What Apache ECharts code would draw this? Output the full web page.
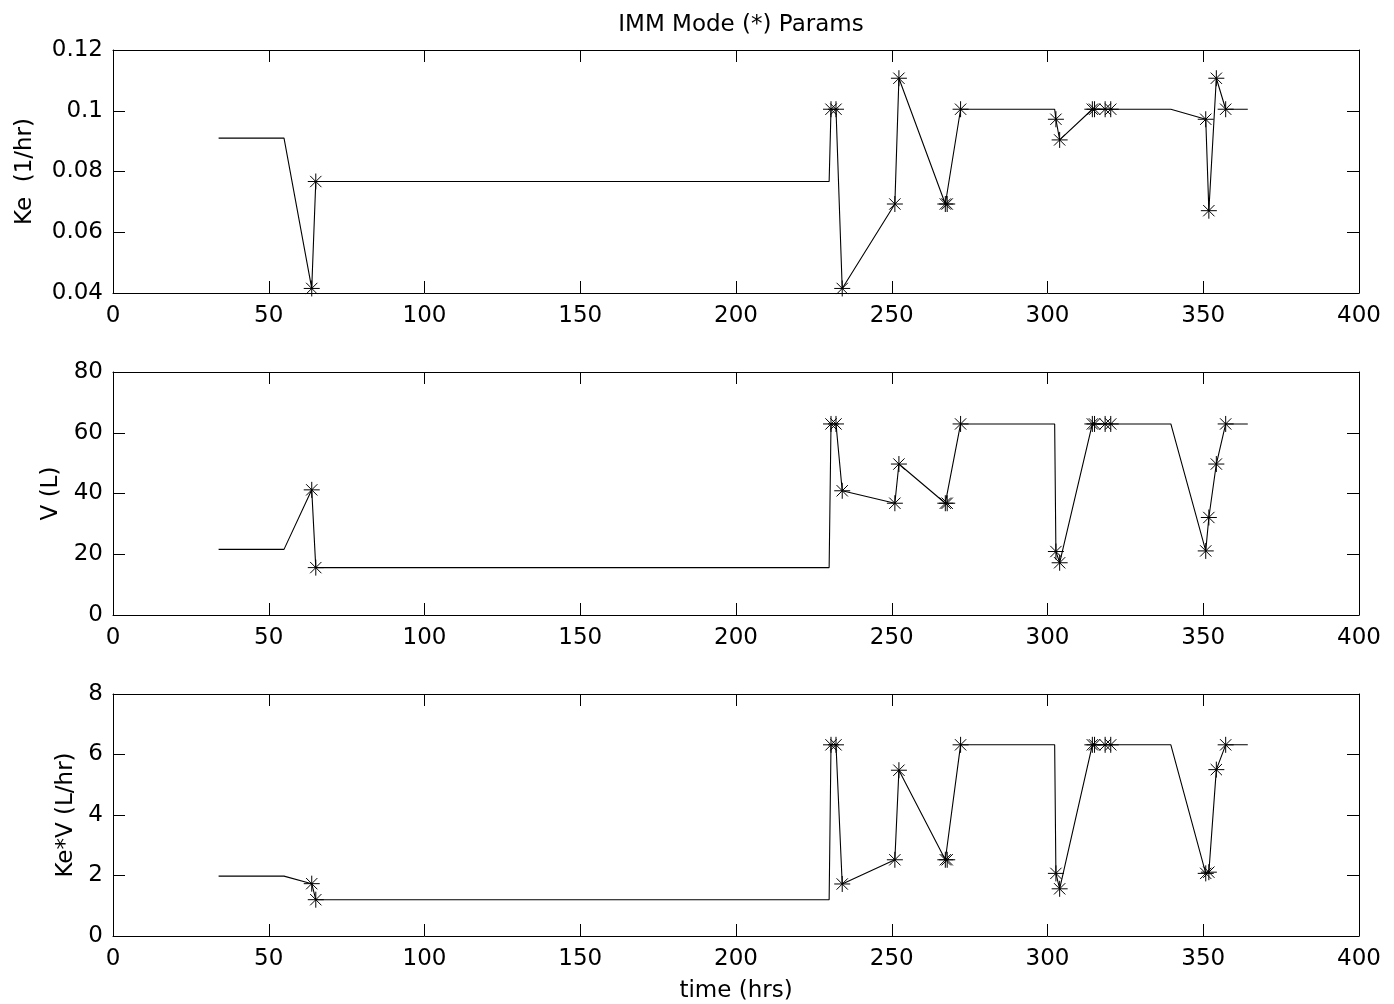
<!DOCTYPE html>
<html>
<head>
<meta charset="utf-8">
<script src="https://cdn.jsdelivr.net/npm/echarts@6/dist/echarts.min.js"></script>
<style>
html,body{margin:0;padding:0;background:#fff;}
#chart{width:1394px;height:1004px;}
</style>
</head>
<body>
<div id="chart"></div>
<script>
// Sample times (hrs) of the line vertices
const time = [33.9, 54.9, 63.8, 65.1, 229.9, 230.5, 232.1, 234.1, 251.0, 252.3, 267.2, 267.8, 272.1, 302.3, 302.7, 303.9, 314.4, 315.1, 318.5, 320.3, 339.6, 350.8, 351.8, 354.2, 357.2, 364.3];
// Ke (1/hr)
const ke = [0.091, 0.091, 0.0415, 0.0767, 0.0767, 0.1005, 0.1005, 0.0415, 0.0693, 0.1107, 0.0693, 0.0693, 0.1005, 0.1005, 0.0972, 0.0904, 0.1005, 0.1005, 0.1005, 0.1005, 0.1005, 0.0972, 0.0671, 0.1107, 0.1005, 0.1005];
// V (L)
const vol = [21.6, 21.6, 41.2, 15.6, 15.6, 62.9, 62.9, 40.9, 36.8, 49.7, 36.8, 36.8, 62.9, 62.9, 20.9, 17.2, 62.9, 62.9, 62.9, 62.9, 62.9, 21.1, 32.1, 49.7, 62.9, 62.9];
// Ke*V (L/hr)
const kev = [1.98, 1.98, 1.73, 1.20, 1.20, 6.32, 6.32, 1.72, 2.52, 5.48, 2.52, 2.52, 6.32, 6.32, 2.07, 1.56, 6.32, 6.32, 6.32, 6.32, 6.32, 2.07, 2.11, 5.50, 6.32, 6.32];
// IMM mode change markers (*) : 1 = marked sample
const modeMark = [0, 0, 1, 1, 0, 1, 1, 1, 1, 1, 1, 1, 1, 0, 1, 1, 1, 1, 1, 1, 0, 1, 1, 1, 1, 0];

const xTicks = [0, 50, 100, 150, 200, 250, 300, 350, 400];
const keTicks = [0.04, 0.06, 0.08, 0.1, 0.12];
const vTicks = [0, 20, 40, 60, 80];
const kevTicks = [0, 2, 4, 6, 8];

const titleText = 'IMM Mode (*) Params';
const yNames = ['Ke  (1/hr)', 'V (L)', 'Ke*V (L/hr)'];
const xName = 'time (hrs)';

const FONT = 'DejaVu Sans';
const FS = 23;
const BLACK = '#000';

const grids = [
  {left: 113, top: 50, width: 1246, height: 243},
  {left: 113, top: 372, width: 1246, height: 243},
  {left: 113, top: 694, width: 1246, height: 242}
];
const yDefs = [
  {ticks: keTicks, data: ke, gap: 76, fmt: v => String(+v.toFixed(2))},
  {ticks: vTicks, data: vol, gap: 50, fmt: v => String(v)},
  {ticks: kevTicks, data: kev, gap: 33, fmt: v => String(v)}
];

const xAxes = [], yAxes = [], series = [];
const starPath = 'path://M0,-10L0,10M-10,0L10,0M-7.07,-7.07L7.07,7.07M-7.07,7.07L7.07,-7.07';

yDefs.forEach((d, i) => {
  const common = {
    gridIndex: i, type: 'value', min: xTicks[0], max: xTicks[xTicks.length - 1],
    interval: xTicks[1] - xTicks[0],
    axisLine: {show: true, onZero: false, lineStyle: {color: BLACK, width: 1}},
    axisTick: {show: true, inside: true, length: 12, lineStyle: {color: BLACK, width: 1}},
    splitLine: {show: false}
  };
  xAxes.push(Object.assign({}, common, {
    position: 'bottom',
    axisLabel: {show: true, color: BLACK, fontFamily: FONT, fontSize: FS, margin: 12},
    name: i === 2 ? xName : '', nameLocation: 'middle', nameGap: 44,
    nameTextStyle: {color: BLACK, fontFamily: FONT, fontSize: FS}
  }));
  xAxes.push(Object.assign({}, common, {position: 'top', axisLabel: {show: false}}));
  const ymin = d.ticks[0], ymax = d.ticks[d.ticks.length - 1];
  const ycommon = {
    gridIndex: i, type: 'value', min: ymin, max: ymax, interval: d.ticks[1] - d.ticks[0],
    axisLine: {show: true, onZero: false, lineStyle: {color: BLACK, width: 1}},
    axisTick: {show: true, inside: true, length: 12, lineStyle: {color: BLACK, width: 1}},
    splitLine: {show: false}
  };
  yAxes.push(Object.assign({}, ycommon, {
    position: 'left',
    axisLabel: {show: true, color: BLACK, fontFamily: FONT, fontSize: FS, margin: 10, formatter: d.fmt},
    name: yNames[i], nameLocation: 'middle', nameGap: d.gap, nameRotate: 90,
    nameTextStyle: {color: BLACK, fontFamily: FONT, fontSize: FS}
  }));
  yAxes.push(Object.assign({}, ycommon, {position: 'right', axisLabel: {show: false}}));

  series.push({
    type: 'line', xAxisIndex: 2 * i, yAxisIndex: 2 * i,
    data: time.map((t, k) => [t, d.data[k]]),
    showSymbol: false, symbol: 'none', silent: true, animation: false,
    lineStyle: {color: BLACK, width: 1.1}
  });
  series.push({
    type: 'scatter', xAxisIndex: 2 * i, yAxisIndex: 2 * i,
    data: time.map((t, k) => [t, d.data[k]]).filter((p, k) => modeMark[k] === 1),
    symbol: starPath, symbolSize: 16, silent: true, animation: false,
    itemStyle: {color: 'rgba(0,0,0,0)', borderColor: BLACK, borderWidth: 1, opacity: 1}
  });
});

const chart = echarts.init(document.getElementById('chart'), null, {renderer: 'canvas'});
chart.setOption({
  backgroundColor: '#fff',
  animation: false,
  title: {
    text: titleText, left: 736, top: 9, textAlign: 'center',
    textStyle: {color: BLACK, fontFamily: FONT, fontSize: FS, fontWeight: 'normal'}
  },
  grid: grids,
  xAxis: xAxes,
  yAxis: yAxes,
  series: series
});
</script>
</body>
</html>
